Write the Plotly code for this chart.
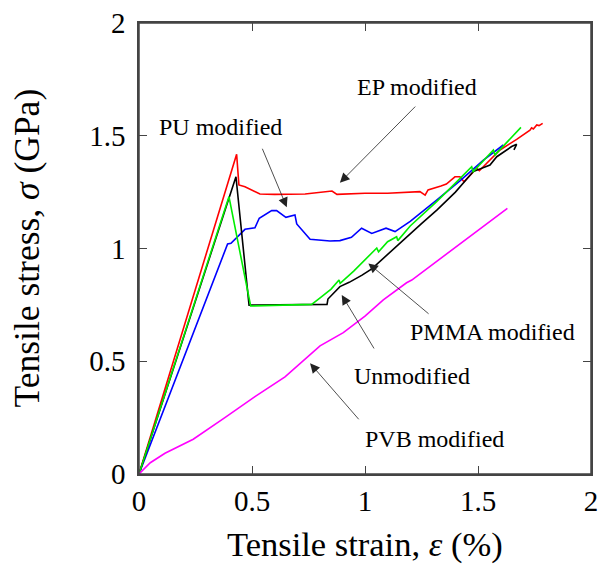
import plotly.graph_objects as go

# ---- data (strain %, stress GPa) ----
ep_x = [0, 0.432, 0.442, 0.469, 0.535, 0.60, 0.735, 0.80, 0.854, 0.876, 1.0, 1.1, 1.243, 1.266, 1.279,
        1.336, 1.36, 1.398, 1.42, 1.438, 1.494, 1.506, 1.553, 1.597, 1.671, 1.73, 1.737, 1.745, 1.76, 1.77, 1.786]
ep_y = [0, 1.418, 1.282, 1.274, 1.242, 1.240, 1.242, 1.25, 1.255, 1.240, 1.245, 1.245, 1.252, 1.237, 1.260,
        1.277, 1.286, 1.318, 1.318, 1.296, 1.355, 1.345, 1.392, 1.437, 1.484, 1.525, 1.535, 1.530, 1.548, 1.545, 1.555]

un_x = [0, 0.429, 0.487, 0.60, 0.70, 0.832, 0.836, 0.889, 0.93, 0.987, 1.03, 1.058, 1.15, 1.25, 1.319,
        1.40, 1.479, 1.553, 1.583, 1.634, 1.649, 1.671, 1.659]
un_y = [0, 1.318, 0.749, 0.750, 0.750, 0.752, 0.776, 0.831, 0.850, 0.882, 0.910, 0.936, 1.020, 1.110, 1.171,
        1.250, 1.341, 1.370, 1.407, 1.444, 1.452, 1.462, 1.437]

pm_x = [0, 0.398, 0.494, 0.60, 0.70, 0.764, 0.80, 0.85, 0.885, 0.89, 0.95, 1.0, 1.052, 1.06, 1.10, 1.14, 1.145,
        1.20, 1.317, 1.40, 1.472, 1.479, 1.568, 1.575, 1.69]
pm_y = [0, 1.230, 0.745, 0.747, 0.748, 0.752, 0.780, 0.820, 0.860, 0.845, 0.900, 0.950, 1.002, 0.985, 1.030,
        1.052, 1.035, 1.100, 1.208, 1.290, 1.363, 1.341, 1.437, 1.415, 1.537]

pu_x = [0, 0.392, 0.407, 0.469, 0.513, 0.532, 0.587, 0.609, 0.65, 0.69, 0.698, 0.757, 0.845, 0.889, 0.94,
        0.985, 1.03, 1.093, 1.133, 1.20, 1.317, 1.42, 1.524, 1.612]
pu_y = [0, 1.020, 1.023, 1.085, 1.092, 1.134, 1.168, 1.168, 1.138, 1.149, 1.109, 1.041, 1.033, 1.035, 1.050,
        1.090, 1.067, 1.090, 1.075, 1.120, 1.215, 1.300, 1.392, 1.459]

pvb_x = [0, 0.05, 0.115, 0.24, 0.38, 0.513, 0.646, 0.801, 0.904, 1.0, 1.081, 1.184, 1.207, 1.40, 1.63]
pvb_y = [0, 0.050, 0.092, 0.154, 0.250, 0.343, 0.431, 0.568, 0.627, 0.700, 0.772, 0.848, 0.860, 1.005, 1.178]

series = [
    ("EP modified", ep_x, ep_y, "#ff0000"),
    ("PU modified", pu_x, pu_y, "#0000ff"),
    ("PMMA modified", un_x, un_y, "#000000"),
    ("Unmodified", pm_x, pm_y, "#00ee00"),
    ("PVB modified", pvb_x, pvb_y, "#ff00ff"),
]

# labels: (text, text_x, text_y, arrow_tail_x, arrow_tail_y, head_x, head_y)
labels = [
    ("EP modified", 1.229, 1.718, 1.229, 1.636, 0.889, 1.292),
    ("PU modified", 0.362, 1.537, 0.543, 1.449, 0.654, 1.183),
    ("PMMA modified", 1.566, 0.631, 1.288, 0.705, 1.015, 0.934),
    ("Unmodified", 1.208, 0.435, 1.044, 0.550, 0.897, 0.794),
    ("PVB modified", 1.308, 0.155, 0.978, 0.236, 0.757, 0.491),
]

ticks = [0, 0.5, 1, 1.5, 2]
tick_text = ["0", "0.5", "1", "1.5", "2"]

FONT = "Liberation Serif"
AXC = "#444444"

fig = go.Figure()
for name, xs, ys, col in series:
    fig.add_trace(go.Scatter(x=xs, y=ys, mode="lines", name=name,
                             line=dict(color=col, width=1.6), showlegend=False))

for text, tx, ty, ax, ay, hx, hy in labels:
    fig.add_annotation(x=tx, y=ty, xref="x", yref="y", text=text, showarrow=False,
                       font=dict(family=FONT, size=24, color="black"),
                       xanchor="center", yanchor="middle")
    fig.add_annotation(x=hx, y=hy, xref="x", yref="y", ax=ax, ay=ay, axref="x", ayref="y",
                       text="", showarrow=True, arrowhead=2, arrowsize=2.4, arrowwidth=0.8,
                       arrowcolor="#222222")

axis_common = dict(range=[0, 2], tickvals=ticks, ticktext=tick_text, ticks="inside", ticklen=8,
                   tickwidth=1.2, tickcolor=AXC, showline=True, linecolor=AXC, linewidth=1.5,
                   mirror="ticks", showgrid=False, zeroline=False, automargin=False,
                   ticklabeloverflow="allow", tickfont=dict(family=FONT, size=29, color="black"))

fig.update_xaxes(**axis_common, ticklabelstandoff=0)
fig.update_yaxes(**axis_common, ticklabelstandoff=6)

# plot frame
fig.add_shape(type="rect", xref="paper", yref="paper", x0=0, y0=0, x1=1, y1=1,
              line=dict(color=AXC, width=1.5), layer="above")

fig.add_annotation(x=0.5, y=-0.157, xref="paper", yref="paper",
                   text="Tensile strain, <i>ε</i> (%)", showarrow=False,
                   font=dict(family=FONT, size=34.5, color="black"), xanchor="center", yanchor="middle")
fig.add_annotation(x=-0.250, y=0.5, xref="paper", yref="paper",
                   text="Tensile stress, <i>σ</i> (GPa)", showarrow=False, textangle=-90,
                   font=dict(family=FONT, size=35.5, color="black"), xanchor="center", yanchor="middle")

fig.update_layout(width=598, height=571, margin=dict(l=139, r=7, t=23, b=97),
                  plot_bgcolor="white", paper_bgcolor="white", showlegend=False)

# remove the default 8px page margin so the figure fills the window exactly
fig.write_html("out.html", config={"displayModeBar": False},
               post_script="document.body.style.margin='0px';document.body.style.overflow='hidden';")
